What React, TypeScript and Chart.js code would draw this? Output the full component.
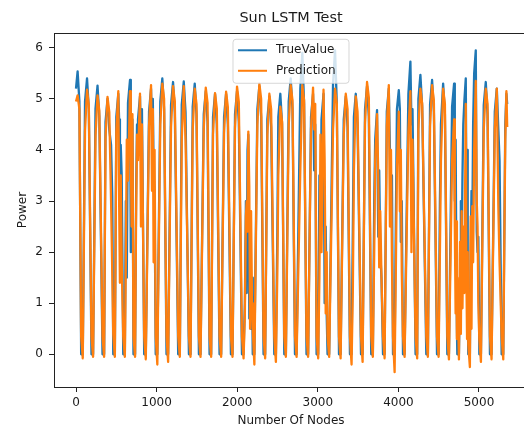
import React, { useEffect, useRef } from "react";
import { Chart, registerables } from "chart.js";

Chart.register(...registerables);

const CHART_TITLE = "Sun LSTM Test";
const X_TITLE = "Number Of Nodes";
const Y_TITLE = "Power";
const SERIES_NAMES = ["TrueValue", "Prediction"];
const X_TICKS = [0, 1000, 2000, 3000, 4000, 5000];
const Y_TICKS = [0, 1, 2, 3, 4, 5, 6];

// node index of each sampled point (one line per daily cycle)
const nodeIdx = [
  0, 20, 42, 64, 84,
  112, 137, 159, 192, 212,
  242, 267, 289, 329, 349,
  366, 391, 413, 435, 450, 462, 482,
  500, 525, 535, 545, 555, 567, 586, 606,
  618, 630, 645, 670, 680, 690, 700, 713, 733,
  745, 757, 769, 794, 806, 818, 846, 866,
  906, 931, 943, 953, 963, 975, 989, 1009,
  1046, 1071, 1093, 1123, 1143,
  1179, 1204, 1226, 1268, 1288,
  1312, 1337, 1359, 1401, 1421,
  1448, 1473, 1495, 1525, 1545,
  1585, 1610, 1632, 1657, 1677,
  1700, 1725, 1747, 1781, 1801,
  1837, 1862, 1884, 1922, 1942,
  1973, 1998, 2020, 2059, 2079,
  2095, 2108, 2118, 2128, 2138, 2150, 2160, 2172, 2184, 2193, 2213,
  2250, 2275, 2297, 2327, 2347,
  2374, 2399, 2421, 2460, 2480,
  2498, 2510, 2535, 2557, 2584, 2604,
  2639, 2664, 2686, 2717, 2737,
  2783, 2808, 2830, 2860, 2880,
  2916, 2941, 2955, 2968, 2985, 3005,
  3020, 3033, 3046, 3071, 3085, 3098, 3110, 3121, 3141,
  3189, 3214, 3236, 3263, 3283,
  3322, 3347, 3369, 3399, 3419,
  3435, 3448, 3471, 3493, 3536, 3556,
  3586, 3611, 3633, 3663, 3683,
  3700, 3712, 3735, 3750, 3762, 3775, 3790, 3809, 3829,
  3856, 3881, 3895, 3908, 3920, 3933, 3953,
  3970, 3982, 4005, 4018, 4030, 4042, 4057, 4077,
  4124, 4149, 4162, 4175, 4213, 4233,
  4248, 4273, 4295, 4346, 4366,
  4393, 4418, 4440, 4479, 4499,
  4515, 4528, 4555, 4577, 4607, 4627,
  4666, 4691, 4700, 4710, 4718, 4726, 4731, 4751,
  4765, 4775, 4785, 4795, 4805, 4818, 4836, 4844, 4852, 4860, 4867, 4887,
  4897, 4907, 4917, 4927, 4940, 4960, 4972, 4982, 4992, 5004, 5024,
  5059, 5084, 5106, 5136, 5156,
  5196, 5221, 5240, 5255, 5281, 5301,
  5326, 5340, 5350,
];

const trueValue = [
  5.2, 5.54, 4.95, 0, 0,
  4.95, 5.4, 4.8, 0, 0,
  4.81, 5.26, 4.66, 0, 0,
  4.55, 5.0, 4.4, 4.1, 3.1, 0, 0,
  4.65, 5.1, 4.6, 3.1, 4.1, 3.5, 0, 0,
  3.0, 1.5, 4.92, 5.37, 2.0, 4.0, 4.6, 0, 0,
  3.0, 4.5, 4.6, 5.05, 4.0, 4.8, 0, 0,
  4.75, 5.2, 4.4, 5.0, 3.6, 3.0, 0, 0,
  4.95, 5.4, 4.8, 0, 0,
  4.88, 5.33, 4.73, 0, 0,
  4.89, 5.34, 4.74, 0, 0,
  4.85, 5.3, 4.7, 0, 0,
  4.7, 5.15, 4.55, 0, 0,
  4.65, 5.1, 4.5, 0, 0,
  4.65, 5.1, 4.5, 0, 0,
  4.7, 5.15, 4.55, 0, 0,
  1.0, 3.0, 1.2, 4.0, 4.3, 0.7, 2.5, 0.5, 1.5, 0, 0,
  4.8, 5.25, 4.65, 0, 0,
  4.6, 5.05, 4.45, 0, 0,
  2.4, 4.65, 5.1, 4.5, 0, 0,
  4.95, 5.4, 4.8, 0, 0,
  5.2, 5.9, 4.9, 0, 0,
  4.65, 5.1, 3.6, 4.5, 0, 0,
  3.5, 2.1, 4.6, 5.1, 1.0, 2.5, 0.8, 0, 0,
  5.3, 5.95, 4.9, 0, 0,
  4.6, 5.05, 4.45, 0, 0,
  2.5, 4.65, 5.1, 4.5, 0, 0,
  4.8, 5.25, 4.65, 0, 0,
  3.0, 4.2, 4.78, 2.3, 3.6, 2.0, 1.5, 0, 0,
  4.75, 5.2, 4.0, 2.8, 3.5, 0, 0,
  2.9, 4.8, 5.17, 4.8, 2.2, 3.0, 0, 0,
  5.1, 5.73, 4.5, 4.8, 0, 0,
  5.0, 5.47, 4.85, 0, 0,
  4.9, 5.37, 4.75, 0, 0,
  3.0, 4.5, 5.3, 4.7, 0, 0,
  4.85, 5.3, 3.0, 4.2, 2.0, 0.5, 0, 0,
  1.5, 3.0, 2.0, 3.5, 4.5, 4.95, 5.4, 3.1, 4.0, 1.0, 0, 0,
  2.0, 3.2, 2.4, 4.5, 5.5, 5.95, 2.4, 2.0, 2.3, 0, 0,
  4.88, 5.33, 4.7, 0, 0,
  4.75, 5.2, 4.4, 3.8, 0, 0,
  4.5, 5.1, 4.9,
];

const prediction = [
  4.95, 5.07, 4.8, 0.35, -0.08,
  4.38, 5.18, 4.88, 0.35, -0.05,
  4.27, 5.07, 4.77, 0.35, -0.05,
  4.24, 5.04, 4.74, 3.0, 1.6, 0.4, -0.05,
  4.35, 5.15, 3.0, 1.4, 3.5, 1.8, 0.35, -0.05,
  1.8, 4.2, 3.4, 5.15, 4.0, 2.5, 4.7, 0.35, -0.05,
  2.6, 4.3, 3.8, 5.1, 2.5, 4.5, 0.35, -0.1,
  4.47, 5.27, 3.2, 4.8, 1.8, 4.0, 0.35, -0.2,
  4.5, 5.3, 5.0, 0.35, -0.15,
  4.45, 5.25, 4.95, 0.35, -0.05,
  4.2, 5.25, 4.2, 0.35, -0.05,
  4.4, 5.2, 4.9, 0.35, -0.05,
  4.42, 5.22, 4.92, 0.35, -0.05,
  4.31, 5.11, 4.81, 0.35, -0.05,
  4.34, 5.14, 4.84, 0.35, -0.05,
  4.44, 5.24, 4.94, 0.35, -0.08,
  0.8, 2.7, 3.0, 2.4, 4.36, 3.3, 0.5, 2.8, 1.0, 0.5, -0.2,
  4.5, 5.3, 5.0, 0.35, -0.08,
  4.3, 5.1, 4.8, 0.35, -0.15,
  1.6, 3.5, 4.85, 4.55, 0.35, -0.05,
  4.47, 5.27, 4.97, 0.35, -0.05,
  3.6, 5.27, 4.97, 0.35, -0.05,
  4.42, 5.22, 4.4, 4.9, 0.35, -0.08,
  1.5, 4.3, 2.0, 5.18, 3.8, 0.8, 2.0, 0.35, -0.05,
  4.4, 5.2, 4.9, 0.35, -0.08,
  4.3, 5.1, 4.8, 0.35, -0.2,
  1.3, 3.6, 5.05, 4.75, 0.35, -0.15,
  4.53, 5.33, 5.03, 0.35, -0.05,
  2.0, 3.8, 4.7, 3.5, 1.7, 2.8, 1.5, 0.35, -0.08,
  4.47, 5.27, 2.5, 4.0, 1.8, 0.35, -0.35,
  1.9, 3.7, 4.75, 2.8, 4.0, 1.6, 0.35, -0.05,
  4.35, 5.15, 2.0, 4.2, 0.35, -0.08,
  4.4, 5.2, 4.9, 0.35, -0.05,
  4.47, 5.27, 4.97, 0.35, -0.05,
  2.0, 3.8, 5.2, 4.9, 0.35, -0.1,
  3.8, 4.6, 2.5, 0.8, 2.6, 0.3, 1.5, -0.1,
  2.2, 0.4, 2.8, 0.9, 2.5, 1.2, 4.9, 1.5, 0.3, 2.0, 0.2, -0.25,
  2.7, 0.5, 2.9, 1.8, 4.0, 5.35, 3.0, 2.5, 1.0, 0.3, -0.15,
  4.4, 5.2, 4.9, 0.35, -0.1,
  4.4, 5.2, 2.9, 1.8, 0.35, -0.1,
  4.2, 5.15, 4.45,
];

const FONT = "'DejaVu Sans', 'Liberation Sans', sans-serif";
const TEXT = "#1a1a1a";
const BLUE = "#1f77b4";
const ORANGE = "#ff7f0e";

const framePlugin = {
  id: "mplFrame",
  afterDatasetsDraw(chart: any) {
    const { ctx, chartArea } = chart;
    ctx.save();
    ctx.strokeStyle = "#222";
    ctx.lineWidth = 1;
    const l = Math.round(chartArea.left) + 0.5;
    const t = Math.round(chartArea.top) + 0.5;
    const r = Math.round(chartArea.right) + 0.5;
    const b = Math.round(chartArea.bottom) + 0.5;
    ctx.strokeRect(l, t, r - l, b - t);
    ctx.restore();
  },
};

const legendPlugin = {
  id: "mplLegend",
  afterDraw(chart: any) {
    const { ctx, chartArea } = chart;
    const w = 116;
    const h = 44;
    const x0 = (chartArea.left + chartArea.right) / 2 - w / 2;
    const y0 = chartArea.top + 6.3;
    const rad = 3;
    ctx.save();
    ctx.beginPath();
    ctx.moveTo(x0 + rad, y0);
    ctx.lineTo(x0 + w - rad, y0);
    ctx.quadraticCurveTo(x0 + w, y0, x0 + w, y0 + rad);
    ctx.lineTo(x0 + w, y0 + h - rad);
    ctx.quadraticCurveTo(x0 + w, y0 + h, x0 + w - rad, y0 + h);
    ctx.lineTo(x0 + rad, y0 + h);
    ctx.quadraticCurveTo(x0, y0 + h, x0, y0 + h - rad);
    ctx.lineTo(x0, y0 + rad);
    ctx.quadraticCurveTo(x0, y0, x0 + rad, y0);
    ctx.closePath();
    ctx.fillStyle = "rgba(255,255,255,0.8)";
    ctx.fill();
    ctx.strokeStyle = "rgba(204,204,204,0.8)";
    ctx.lineWidth = 1;
    ctx.stroke();
    chart.data.datasets.forEach((ds: any, i: number) => {
      const cy = y0 + 11 + i * 20.5;
      ctx.beginPath();
      ctx.strokeStyle = ds.borderColor;
      ctx.lineWidth = 2;
      ctx.moveTo(x0 + 5, cy);
      ctx.lineTo(x0 + 34, cy);
      ctx.stroke();
      ctx.fillStyle = TEXT;
      ctx.font = `12px ${FONT}`;
      ctx.textBaseline = "middle";
      ctx.textAlign = "left";
      ctx.fillText(ds.label, x0 + 43, cy);
    });
    ctx.restore();
  },
};

export default function App() {
  const canvasRef = useRef<HTMLCanvasElement | null>(null);

  useEffect(() => {
    const canvas = canvasRef.current;
    if (!canvas) return;
    const trueData = nodeIdx.map((x, i) => ({ x, y: trueValue[i] }));
    const predData = nodeIdx.map((x, i) => ({ x, y: prediction[i] }));
    const tickFont = { family: FONT, size: 12 };
    const plain = (v: any) => String(v);
    const chart = new Chart(canvas, {
      type: "line",
      data: {
        datasets: [
          {
            label: SERIES_NAMES[0],
            data: trueData,
            borderColor: BLUE,
            backgroundColor: BLUE,
            borderWidth: 2.3,
            pointRadius: 0,
            tension: 0,
            fill: false,
            borderJoinStyle: "round",
            order: 1,
          },
          {
            label: SERIES_NAMES[1],
            data: predData,
            borderColor: ORANGE,
            backgroundColor: ORANGE,
            borderWidth: 2.3,
            pointRadius: 0,
            tension: 0,
            fill: false,
            borderJoinStyle: "round",
            order: 0,
          },
        ],
      },
      options: {
        responsive: false,
        animation: false,
        devicePixelRatio: 1,
        events: [],
        layout: { padding: { left: 0, right: 32, top: 0, bottom: 0 } },
        plugins: {
          legend: { display: false },
          tooltip: { enabled: false },
          title: {
            display: true,
            fullSize: false,
            align: "center",
            text: CHART_TITLE,
            color: TEXT,
            font: { family: FONT, size: 14.4, weight: "normal" },
            padding: { top: 9.5, bottom: 6.2 },
          },
        },
        scales: {
          x: {
            type: "linear",
            min: -273,
            max: 5608,
            afterBuildTicks: (s: any) => {
              s.ticks = X_TICKS.map((v) => ({ value: v }));
            },
            afterFit: (s: any) => {
              s.height = 53;
            },
            ticks: {
              color: TEXT,
              font: tickFont,
              padding: 4,
              maxRotation: 0,
              autoSkip: false,
              callback: plain,
            },
            grid: {
              display: true,
              drawOnChartArea: false,
              drawTicks: true,
              tickLength: 5,
              color: "#222",
            },
            border: { display: false },
            title: {
              display: true,
              text: X_TITLE,
              color: TEXT,
              font: tickFont,
              padding: { top: 0, bottom: 11.8 },
            },
          },
          y: {
            type: "linear",
            min: -0.64,
            max: 6.29,
            afterBuildTicks: (s: any) => {
              s.ticks = Y_TICKS.map((v) => ({ value: v }));
            },
            afterFit: (s: any) => {
              s.width = 54;
            },
            ticks: {
              color: TEXT,
              font: tickFont,
              padding: 6,
              autoSkip: false,
              callback: plain,
            },
            grid: {
              display: true,
              drawOnChartArea: false,
              drawTicks: true,
              tickLength: 5,
              color: "#222",
            },
            border: { display: false },
            title: {
              display: true,
              text: Y_TITLE,
              color: TEXT,
              font: tickFont,
              padding: { top: 15.5, bottom: 0 },
            },
          },
        },
      },
      plugins: [framePlugin, legendPlugin],
    } as any);
    return () => {
      chart.destroy();
    };
  }, []);

  return (
    <div
      style={{
        position: "absolute",
        left: 0,
        top: 0,
        width: 524,
        height: 428,
        overflow: "hidden",
        background: "#fff",
      }}
    >
      <canvas
        ref={canvasRef}
        width={560}
        height={440}
        style={{ display: "block", width: 560, height: 440 }}
      />
    </div>
  );
}
